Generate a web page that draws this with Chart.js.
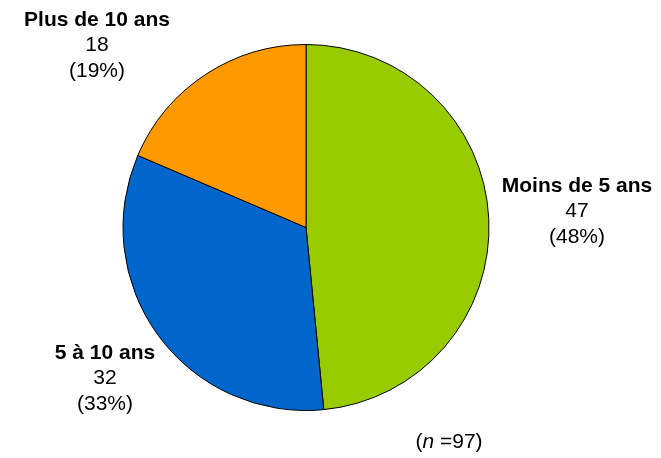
<!DOCTYPE html>
<html>
<head>
<meta charset="utf-8">
<script src="https://cdn.jsdelivr.net/npm/chart.js@4/dist/chart.umd.min.js"></script>
<style>
  html, body { margin: 0; padding: 0; background: #fff; }
  #wrap { width: 661px; height: 458px; position: relative; }
</style>
</head>
<body>
<div id="wrap"><canvas id="camembert"></canvas></div>
<script>
// Ancienneté des répondants
const categories = ["Moins de 5 ans", "5 à 10 ans", "Plus de 10 ans"];
const valeurs = [47, 32, 18];
const couleurs = ["#99CC00", "#0066CC", "#FF9900"];
const total = valeurs.reduce((a, b) => a + b, 0);

// décalage des étiquettes par rapport au centre du camembert
const decalages = [[271, -41], [-201, 126], [-209, -207]];
const police = '"Liberation Sans", Arial, sans-serif';

const etiquettes = {
    id: 'etiquettes',
    afterDraw(chart) {
        const ctx = chart.ctx;
        const arc = chart.getDatasetMeta(0).data[0];
        const cx = arc.x, cy = arc.y;
        ctx.save();
        ctx.fillStyle = '#000';
        ctx.textAlign = 'center';
        ctx.textBaseline = 'middle';
        categories.forEach(function(cat, i) {
            const x = cx + decalages[i][0];
            const y = cy + decalages[i][1];
            const pct = Math.round(valeurs[i] / total * 100);
            ctx.font = 'bold 21px ' + police;
            ctx.fillText(cat, x, y);
            ctx.font = '21px ' + police;
            ctx.fillText(String(valeurs[i]), x, y + 25);
            ctx.fillText('(' + pct + '%)', x, y + 51);
        });
        // (n =97)
        const nx = cx + 143, ny = cy + 215;
        ctx.font = '21px ' + police;
        const partA = '(', partN = 'n', partB = ' =' + total + ')';
        const wA = ctx.measureText(partA).width;
        ctx.font = 'italic 21px ' + police;
        const wN = ctx.measureText(partN).width;
        ctx.font = '21px ' + police;
        const wB = ctx.measureText(partB).width;
        let x0 = nx - (wA + wN + wB) / 2;
        ctx.textAlign = 'left';
        ctx.fillText(partA, x0, ny);
        ctx.font = 'italic 21px ' + police;
        ctx.fillText(partN, x0 + wA, ny);
        ctx.font = '21px ' + police;
        ctx.fillText(partB, x0 + wA + wN, ny);
        ctx.restore();
    }
};

new Chart(document.getElementById('camembert'), {
    type: 'pie',
    data: {
        labels: categories,
        datasets: [{
            data: valeurs,
            backgroundColor: couleurs,
            borderColor: '#000',
            borderWidth: 1
        }]
    },
    options: {
        responsive: true,
        maintainAspectRatio: false,
        animation: false,
        layout: { padding: { top: 44, bottom: 47, left: 100, right: 149 } },
        plugins: {
            legend: { display: false },
            tooltip: { enabled: false }
        }
    },
    plugins: [etiquettes]
});
</script>
</body>
</html>
